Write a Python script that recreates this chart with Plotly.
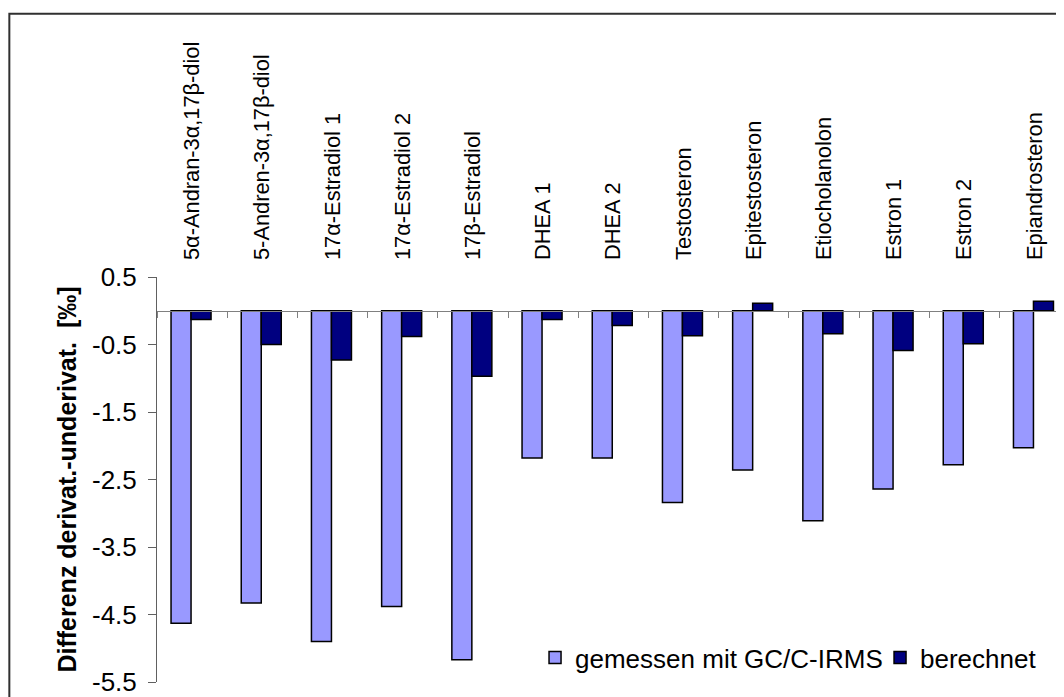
import plotly.graph_objects as go

# Kategorien (Steroide) und Differenzen derivat. - underivat. in Promille
categories = [
    "5α-Andran-3α,17β-diol", "5-Andren-3α,17β-diol", "17α-Estradiol 1",
    "17α-Estradiol 2", "17β-Estradiol", "DHEA 1", "DHEA 2", "Testosteron",
    "Epitestosteron", "Etiocholanolon", "Estron 1", "Estron 2", "Epiandrosteron",
]
gemessen = [-4.63, -4.33, -4.90, -4.38, -5.17, -2.18, -2.18, -2.84,
            -2.36, -3.11, -2.64, -2.28, -2.03]
berechnet = [-0.13, -0.50, -0.73, -0.38, -0.97, -0.13, -0.22, -0.37,
             0.11, -0.34, -0.59, -0.49, 0.14]
y_ticks = [0.5, -0.5, -1.5, -2.5, -3.5, -4.5, -5.5]

FONT = "Liberation Sans, Arial, sans-serif"
x_range = [-0.5, 12.42]

fig = go.Figure()

# gemessene Werte (hellblau) auf der unteren Achse
fig.add_trace(go.Bar(
    x=categories, y=gemessen, name="gemessen mit GC/C-IRMS",
    marker=dict(color="#9999FF", line=dict(color="black", width=1.5)),
    offset=-0.3, width=0.285, xaxis="x", yaxis="y",
))
# berechnete Werte (dunkelblau) auf der oberen Achse mit den Beschriftungen
fig.add_trace(go.Bar(
    x=categories, y=berechnet, name="berechnet",
    marker=dict(color="#000080", line=dict(color="black", width=1.5)),
    offset=-0.015, width=0.285, xaxis="x2", yaxis="y",
))

# die Seite hat 8px Rand, daher 1056x689
fig.update_layout(
    width=1056, height=689,
    margin=dict(l=149, r=0, t=269, b=15, autoexpand=False),
    paper_bgcolor="white", plot_bgcolor="white",
    font=dict(family=FONT, color="black"),
    showlegend=True,
    legend=dict(
        orientation="h", x=0.4168, xanchor="left", y=0.06, yanchor="middle",
        font=dict(size=26, family=FONT), bgcolor="rgba(0,0,0,0)",
        traceorder="normal", entrywidth=300, entrywidthmode="pixels",
    ),
    # Nulllinie mit Teilstrichen zwischen den Kategorien
    xaxis=dict(
        type="category", categoryorder="array", categoryarray=categories,
        range=x_range, anchor="free", position=5.5 / 6, automargin=False,
        showline=True, linecolor="#808080", linewidth=1,
        ticks="outside", tickson="boundaries", ticklen=6, tickcolor="#808080",
        showticklabels=False, showgrid=False, zeroline=False,
    ),
    # Beschriftungen oben
    xaxis2=dict(
        type="category", categoryorder="array", categoryarray=categories,
        range=x_range, overlaying="x", side="top", anchor="y", automargin=False,
        showline=False, ticks="", showgrid=False, zeroline=False,
        tickangle=-90, tickfont=dict(size=21.8, family=FONT),
        ticklabelstandoff=16, ticklabeloverflow="allow",
    ),
    yaxis=dict(
        range=[-5.5, 0.5], tickvals=y_ticks, ticktext=[str(v) for v in y_ticks],
        automargin=False, ticklabeloverflow="allow",
        showline=True, linecolor="#606060", linewidth=1,
        ticks="outside", ticklen=8, tickcolor="#606060",
        tickfont=dict(size=26, family=FONT), ticklabelstandoff=6,
        showgrid=False, zeroline=False,
        title=dict(text="<b>Differenz derivat.-underivat.  [‰]</b>",
                   font=dict(size=25, family=FONT), standoff=8),
    ),
    barmode="overlay",
    shapes=[dict(
        type="rect", xref="paper", yref="paper",
        x0=-0.1628, x1=1.2, y0=-0.5, y1=1.65,
        line=dict(color="#303030", width=2), fillcolor="rgba(0,0,0,0)",
        layer="below",
    )],
)

fig.write_html("out.html")
